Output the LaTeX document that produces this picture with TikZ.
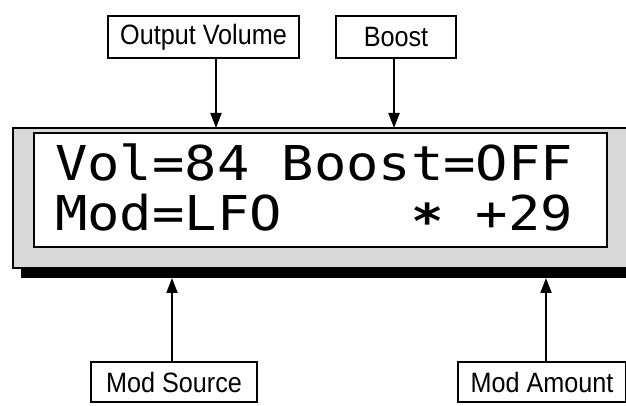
\documentclass[tikz,border=0pt]{standalone}
\usepackage{fontspec}
\usepackage{graphicx}
\setmainfont{Liberation Sans}
\newfontfamily\lcdfont{DejaVu Sans Mono}
\newcommand\narrowlabel[1]{\scalebox{0.9}[1]{#1}}
\usetikzlibrary{arrows.meta}
\begin{document}
\begin{tikzpicture}[x=1pt,y=1pt,
  labelbox/.style={draw, line width=2.4pt, fill=white, inner sep=0pt,
    font=\fontsize{28}{28}\selectfont, minimum height=42pt},
  pointer/.style={line width=2pt, -{Triangle[width=11pt,length=15pt]}},
  lcdtext/.style={anchor=base west, inner sep=0pt,
    font=\fontsize{48}{48}\lcdfont, xscale=1.12},
  framebox/.style={draw, line width=2pt, fill=black!15, inner sep=0pt},
  screenbox/.style={draw, line width=2pt, fill=white, inner sep=0pt}]
\useasboundingbox (0,0) rectangle (626,406);
% labels
\node[labelbox, minimum width=191pt] (ov) at (203.5,369) {\narrowlabel{Output Volume}};
\node[labelbox, minimum width=120pt] (bo) at (396,369) {\narrowlabel{Boost}};
\node[labelbox, minimum width=166pt, minimum height=40pt] (ms) at (174,24) {\narrowlabel{Mod Source}};
\node[labelbox, minimum width=168pt, minimum height=40pt] (ma) at (542,24) {\narrowlabel{Mod Amount}};
% display
\fill[black] (21,128) rectangle (630,139);
\node[framebox, minimum width=614pt, minimum height=140pt] (frame) at (320,208) {};
\node[screenbox, minimum width=573pt, minimum height=114pt] (screen) at (320.5,216) {};
\node[lcdtext] (l1) at (55,225) {Vol=84 Boost=OFF};
\node[lcdtext] (l2) at (55,175) {Mod=LFO\ \ \ \ \raisebox{-8pt}{\bfseries *}\ +29};
% pointer ends
\coordinate (t1) at (216,278);
\coordinate (t2) at (394,278);
\coordinate (b1) at (172,128);
\coordinate (b2) at (546,128);
\draw[pointer] (ov.south -| t1) -- (t1);
\draw[pointer] (bo.south -| t2) -- (t2);
\draw[pointer] (ms.north -| b1) -- (b1);
\draw[pointer] (ma.north -| b2) -- (b2);
\end{tikzpicture}
\end{document}
